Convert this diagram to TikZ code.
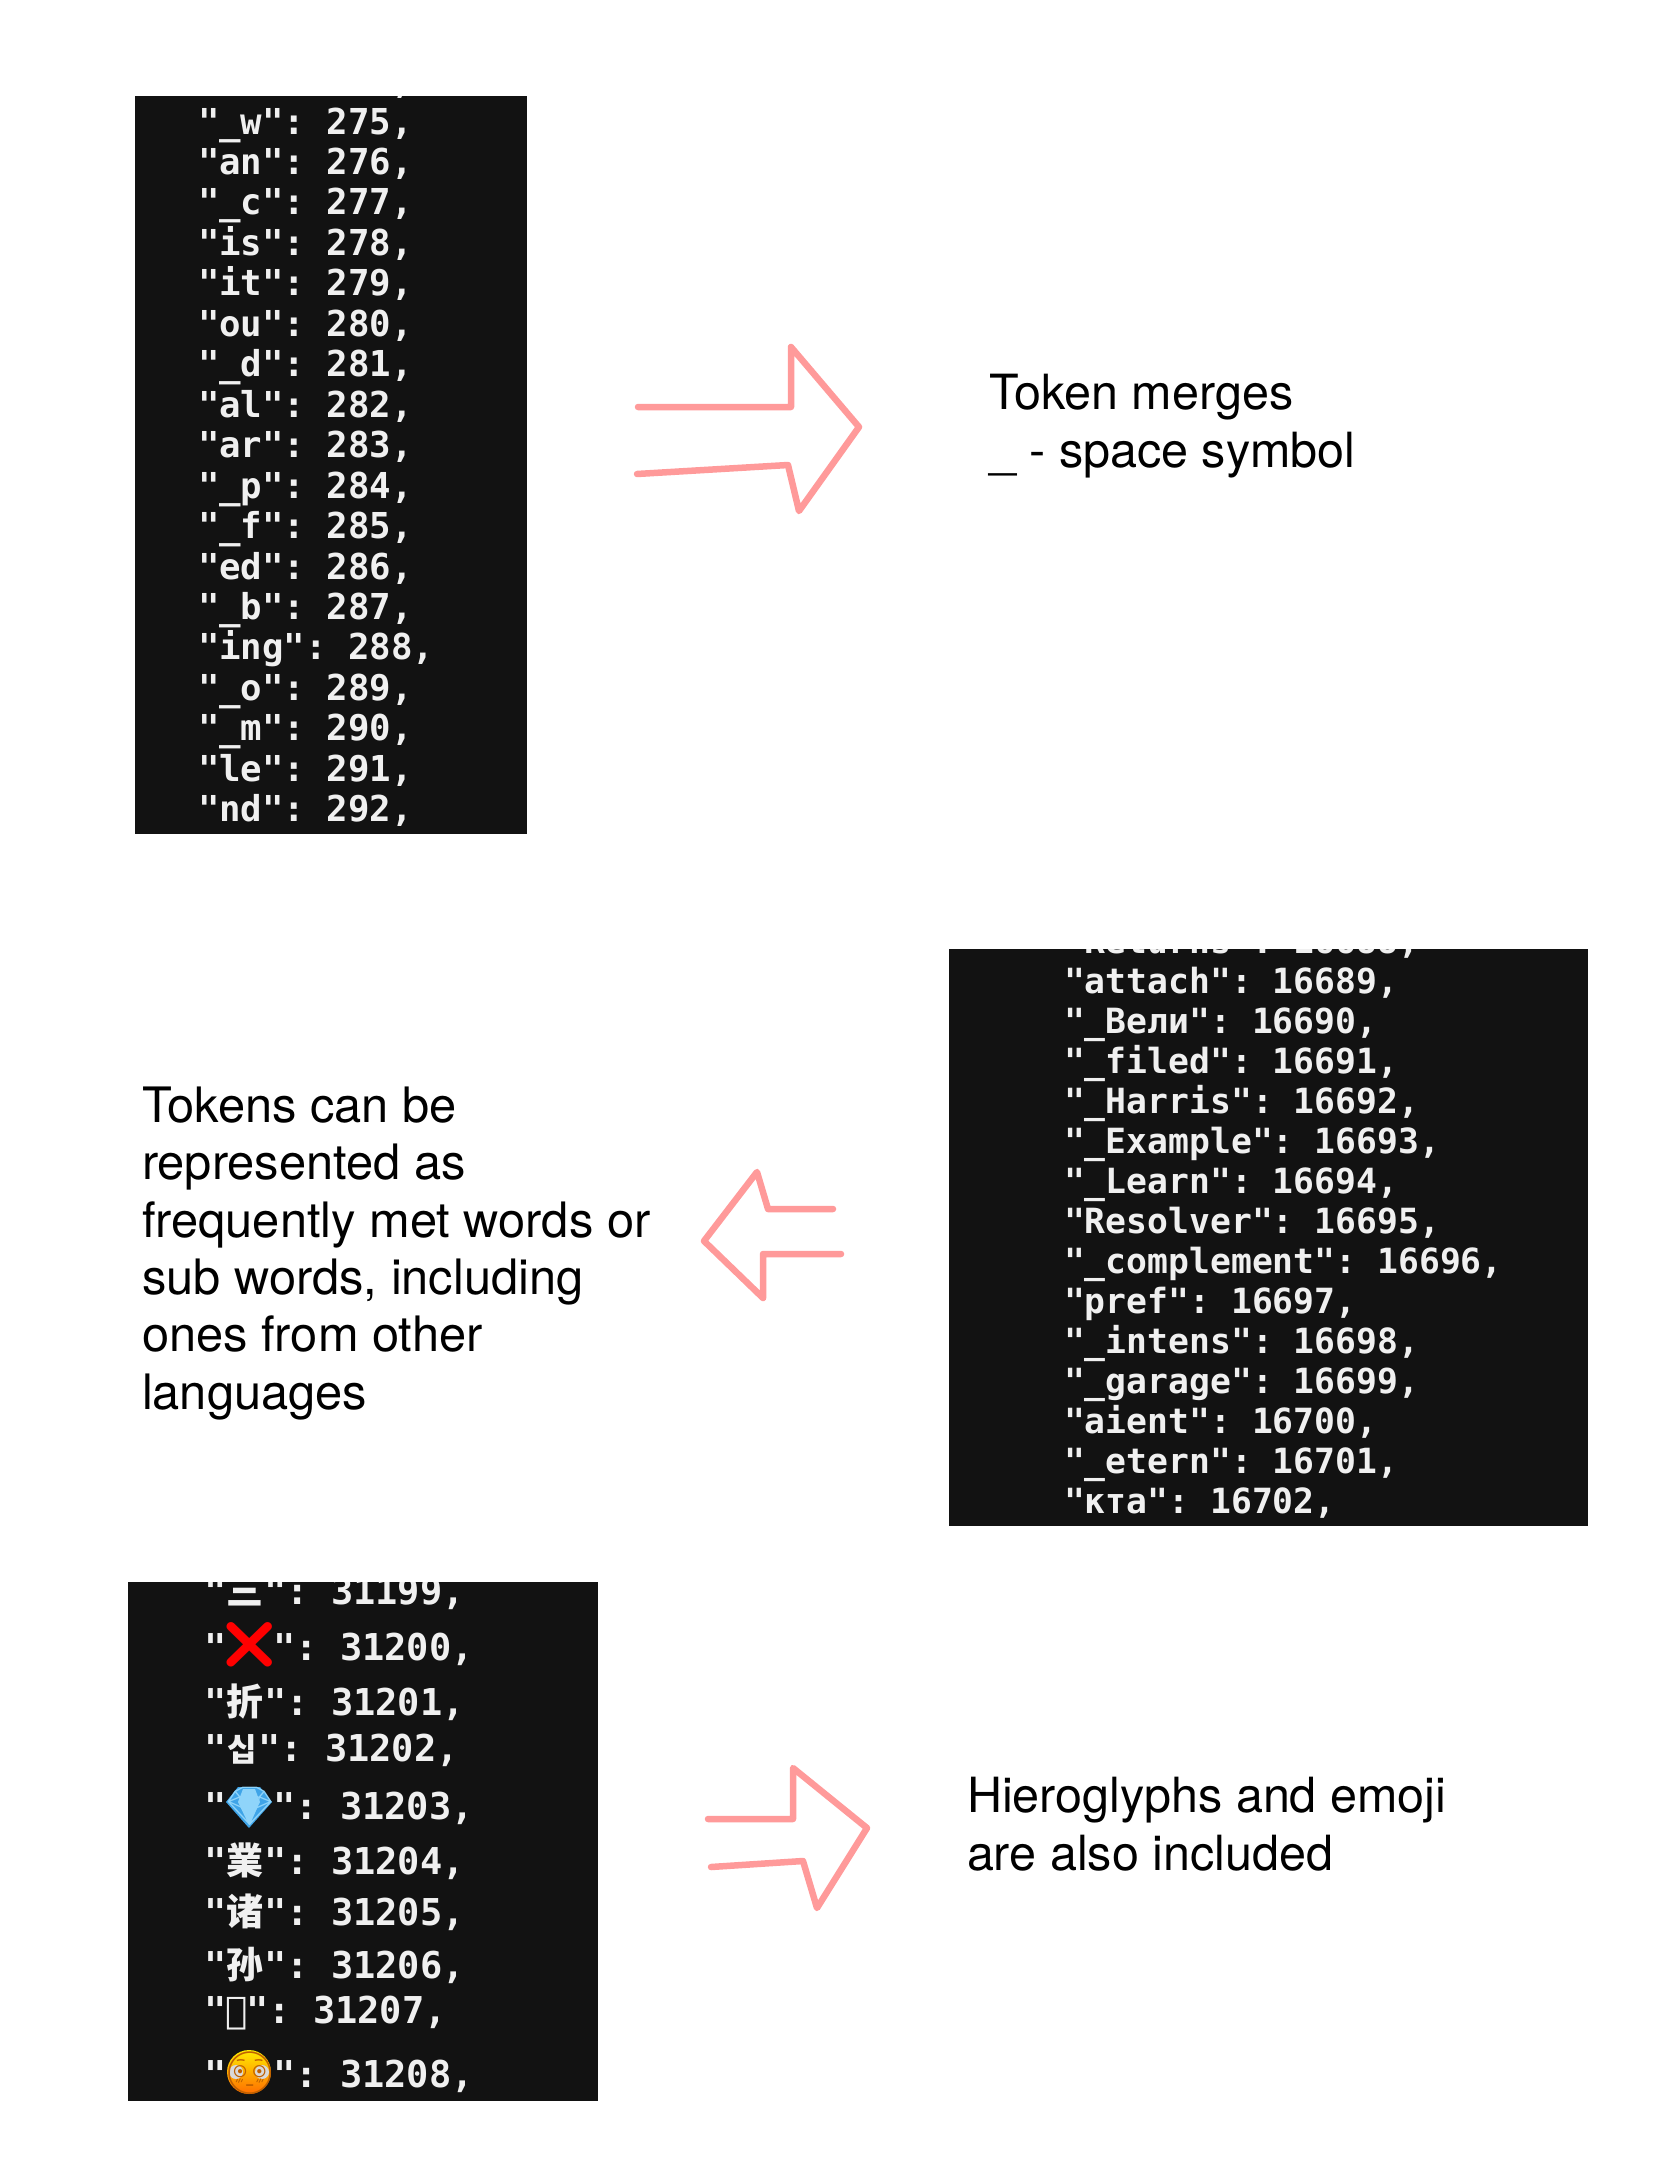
\documentclass[tikz,border=0pt]{standalone}
\usepackage{fontspec}
\setmainfont{TeX Gyre Heros}
\newfontfamily\monof{DejaVu Sans Mono}
\newfontfamily\cjkf{Noto Sans CJK SC}
\newfontfamily\emojif{Noto Emoji}
\definecolor{termbg}{HTML}{121212}
\definecolor{termfg}{HTML}{F0F0F0}
\definecolor{arrowpink}{HTML}{FF9A9A}
\definecolor{gemblue}{HTML}{3FA4E8}
\definecolor{gemlight}{HTML}{8FD4FA}
\tikzset{
  termbox/.style={draw=none,fill=termbg,inner sep=0pt,outer sep=0pt,anchor=north west},
  rowtext/.style={anchor=base west,inner sep=0pt,outer sep=0pt,text=termfg,font=\fontsize{#1}{40}\selectfont\monof\bfseries\frenchspacing},
  label/.style={anchor=base west,inner sep=0pt,outer sep=0pt,align=left,text=black,font=\fontsize{#1}{57.3}\selectfont},
  pinkarrow/.style={draw=arrowpink,line width=6.5pt,line cap=round,line join=round},
}
\newcommand\rowa[3]{\node[rowtext=35.7] (#1) at (198,#2) {#3};}
\newcommand\rowb[3]{\node[rowtext=34.7] (#1) at (1064,#2) {#3};}
\newcommand\rowc[3]{\node[rowtext=37] (#1) at (204,#2) {#3};}
\newcommand\tok[2]{\makebox[#1pt][c]{#2}}
\begin{document}
\begin{tikzpicture}[x=1pt,y=-1pt]
\useasboundingbox (0,0) rectangle (1668,2157);
% boxes
\node[termbox,minimum width=392pt,minimum height=738pt] (boxa) at (135,96) {};
\node[termbox,minimum width=639pt,minimum height=577pt] (boxb) at (949,949) {};
\node[termbox,minimum width=470pt,minimum height=519pt] (boxc) at (128,1582) {};
% box a
\begin{scope}
\clip (boxa.north west) rectangle (boxa.south east);
\rowa{a0}{93.6}{"or": 274,}
\rowa{a1}{134}{"\_w": 275,}
\rowa{a2}{174.5}{"an": 276,}
\rowa{a3}{214.9}{"\_c": 277,}
\rowa{a4}{255.4}{"is": 278,}
\rowa{a5}{295.8}{"it": 279,}
\rowa{a6}{336.3}{"ou": 280,}
\rowa{a7}{376.7}{"\_d": 281,}
\rowa{a8}{417.2}{"al": 282,}
\rowa{a9}{457.6}{"ar": 283,}
\rowa{a10}{498.1}{"\_p": 284,}
\rowa{a11}{538.5}{"\_f": 285,}
\rowa{a12}{579}{"ed": 286,}
\rowa{a13}{619.4}{"\_b": 287,}
\rowa{a14}{659.9}{"ing": 288,}
\rowa{a15}{700.3}{"\_o": 289,}
\rowa{a16}{740.8}{"\_m": 290,}
\rowa{a17}{781.2}{"le": 291,}
\rowa{a18}{821.7}{"nd": 292,}
\end{scope}
% box b
\begin{scope}
\clip (boxb.north west) rectangle (boxb.south east);
\rowb{b0}{953}{"Returns": 16688,}
\rowb{b1}{993}{"attach": 16689,}
\rowb{b2}{1033}{"\_Вели": 16690,}
\rowb{b3}{1073}{"\_filed": 16691,}
\rowb{b4}{1113}{"\_Harris": 16692,}
\rowb{b5}{1153}{"\_Example": 16693,}
\rowb{b6}{1193}{"\_Learn": 16694,}
\rowb{b7}{1233}{"Resolver": 16695,}
\rowb{b8}{1273}{"\_complement": 16696,}
\rowb{b9}{1313}{"pref": 16697,}
\rowb{b10}{1353}{"\_intens": 16698,}
\rowb{b11}{1393}{"\_garage": 16699,}
\rowb{b12}{1433}{"aient": 16700,}
\rowb{b13}{1473}{"\_etern": 16701,}
\rowb{b14}{1513}{"кта": 16702,}
\end{scope}
% box c: colour behind the emoji glyphs
\fill[gemblue] (226,1802) -- (238,1787) -- (260,1787) -- (272,1802) -- (249,1828) -- cycle;
\fill[gemlight] (238,1802) -- (243,1789) -- (255,1789) -- (260,1802) -- (249,1825) -- cycle;
\shade[top color=yellow!85!orange,bottom color=orange!85!red] (249,2072) circle[radius=22];
\fill[gray!30] (236,2072) circle[radius=7] (262,2072) circle[radius=7];
\begin{scope}
\clip (boxc.north west) rectangle (boxc.south east);
\rowc{c0}{1604}{"\tok{38}{\cjkf 三}": 31199,}
\rowc{c1}{1660}{"\tok{47}{\color{red}\fontsize{46}{46}\selectfont\emojif ❌}": 31200,}
\rowc{c2}{1715}{"\tok{38}{\cjkf 折}": 31201,}
\rowc{c3}{1761}{"\tok{32}{\cjkf\fontsize{32}{32}\selectfont 십}": 31202,}
\rowc{c4}{1819}{"\tok{47}{\color{gemlight}\fontsize{38}{38}\selectfont\emojif 💎}": 31203,}
\rowc{c5}{1874}{"\tok{38}{\cjkf 業}": 31204,}
\rowc{c6}{1925}{"\tok{38}{\cjkf 诸}": 31205,}
\rowc{c7}{1978}{"\tok{38}{\cjkf 孙}": 31206,}
\rowc{c8}{2023}{"\tok{20}{ན}": 31207,}
\rowc{c9}{2087}{"\tok{47}{\color{orange!75!black}\fontsize{42}{42}\selectfont\emojif 😳}": 31208,}
\end{scope}
% arrows
\draw[pinkarrow] (638,407) -- (791,407) -- (791,347) -- (859,427) -- (799,511) -- (788,465) -- (637,474);
\draw[pinkarrow] (833,1209) -- (768,1209) -- (757,1172) -- (704,1241) -- (763,1298) -- (763,1254) -- (841,1254);
\draw[pinkarrow] (708,1819) -- (793,1819) -- (793,1768) -- (867,1828) -- (817,1908) -- (803,1861) -- (711,1867);
% labels (the anchor is the baseline of the last line)
\node[label=48.5] (la) at (989,467) {Token merges\\\_ - space symbol};
\node[label=48.8] (lb) at (142,1409) {Tokens can be\\represented as\\frequently met words or\\sub words, including\\ones from other\\languages};
\node[label=48.5] (lc) at (967,1870) {Hieroglyphs and emoji\\are also included};
\end{tikzpicture}
\end{document}
